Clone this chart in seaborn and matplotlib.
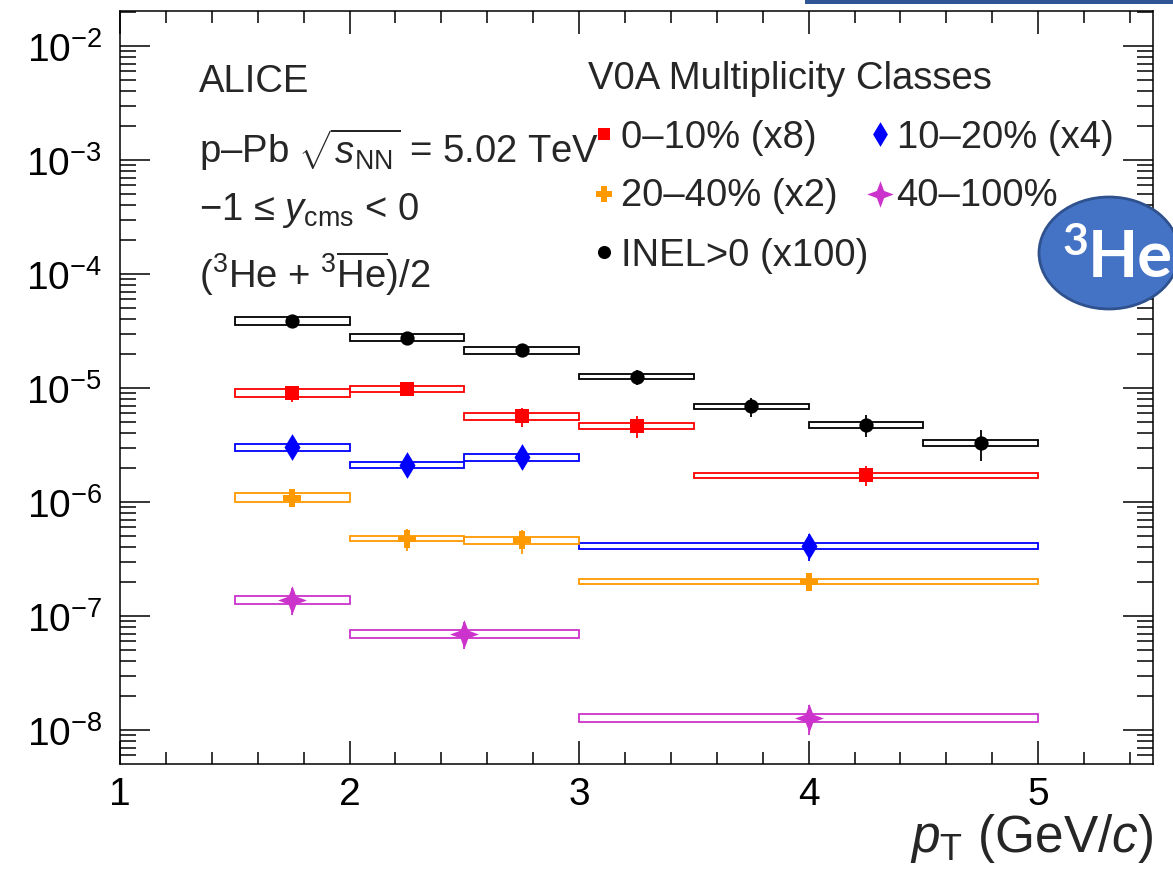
import numpy as np
import matplotlib
matplotlib.use("Agg")
import matplotlib.pyplot as plt
from matplotlib.patches import Rectangle, Ellipse
from matplotlib.ticker import LogLocator, MultipleLocator, NullFormatter
import seaborn as sns

# 3He spectra in p-Pb at 5.02 TeV, (3He + anti-3He)/2, pT bins in GeV/c
inel_lo = [1.5, 2.0, 2.5, 3.0, 3.5, 4.0, 4.5]
inel_hi = [2.0, 2.5, 3.0, 3.5, 4.0, 4.5, 5.0]
inel_yield = [3.87e-7, 2.77e-7, 2.14e-7, 1.26e-7, 6.91e-8, 4.77e-8, 3.30e-8]
inel_stat = [0.08, 0.08, 0.09, 0.15, 0.19, 0.22, 0.30]
inel_syst = [0.075, 0.07, 0.065, 0.05, 0.055, 0.06, 0.065]

c0_lo = [1.5, 2.0, 2.5, 3.0, 3.5]
c0_hi = [2.0, 2.5, 3.0, 3.5, 5.0]
c0_yield = [1.13e-6, 1.234e-6, 7.05e-7, 5.80e-7, 2.14e-7]
c0_stat = [0.16, 0.14, 0.19, 0.22, 0.20]
c0_syst = [0.08, 0.065, 0.065, 0.065, 0.06]

c1_lo = [1.5, 2.0, 2.5, 3.0]
c1_hi = [2.0, 2.5, 3.0, 5.0]
c1_yield = [7.58e-7, 5.30e-7, 6.18e-7, 1.03e-7]
c1_stat = [0.19, 0.22, 0.21, 0.26]
c1_syst = [0.07, 0.065, 0.065, 0.065]

c2_lo = [1.5, 2.0, 2.5, 3.0]
c2_hi = [2.0, 2.5, 3.0, 5.0]
c2_yield = [5.45e-7, 2.39e-7, 2.31e-7, 1.00e-7]
c2_stat = [0.17, 0.22, 0.24, 0.17]
c2_syst = [0.09, 0.055, 0.07, 0.05]

c3_lo = [1.5, 2.0, 3.0]
c3_hi = [2.0, 3.0, 5.0]
c3_yield = [1.39e-7, 7.0e-8, 1.28e-8]
c3_stat = [0.26, 0.26, 0.30]
c3_syst = [0.08, 0.08, 0.075]

class_labels = ["0–10% (x8)", "10–20% (x4)", "20–40% (x2)", "40–100%", "INEL>0 (x100)"]
scale_factors = [8, 4, 2, 1, 100]

# four-pointed star marker
star4 = [(0, 1), (0.27, 0.27), (1, 0), (0.27, -0.27), (0, -1), (-0.27, -0.27), (-1, 0), (-0.27, 0.27)]

colors = ["#ff0000", "#0000ff", "#ff9900", "#cc33cc", "#000000"]
markers = ["s", "d", "P", star4, "o"]
msizes = [95, 185, 150, 430, 105]

series = [
    (c0_lo, c0_hi, c0_yield, c0_stat, c0_syst),
    (c1_lo, c1_hi, c1_yield, c1_stat, c1_syst),
    (c2_lo, c2_hi, c2_yield, c2_stat, c2_syst),
    (c3_lo, c3_hi, c3_yield, c3_stat, c3_syst),
    (inel_lo, inel_hi, inel_yield, inel_stat, inel_syst),
]

sns.set_theme(style="ticks")
plt.rcParams["font.family"] = ["Liberation Sans", "DejaVu Sans"]
plt.rcParams["mathtext.fontset"] = "custom"
plt.rcParams["mathtext.rm"] = "Liberation Sans"
plt.rcParams["mathtext.it"] = "Liberation Sans:italic"
plt.rcParams["mathtext.bf"] = "Liberation Sans:bold"
plt.rcParams["axes.unicode_minus"] = True

W, H = 1173, 887
fig = plt.figure(figsize=(W / 100, H / 100), dpi=100)
fig.patch.set_facecolor("white")
ax = fig.add_axes([120 / W, 122 / H, 1033 / W, 753 / H])
ax.set_facecolor("white")

for (lo, hi, yld, stat, syst), sf, col, mk, ms in zip(series, scale_factors, colors, markers, msizes):
    lo = np.asarray(lo)
    hi = np.asarray(hi)
    y = np.asarray(yld) * sf
    xc = 0.5 * (lo + hi)
    # systematic uncertainty boxes spanning the pT bin
    for l, h, v, s in zip(lo, hi, y, syst):
        ax.add_patch(Rectangle((l, v * (1 - s)), h - l, 2 * v * s, fill=False,
                               edgecolor=col, linewidth=1.3, zorder=2))
    # statistical uncertainties
    ax.errorbar(xc, y, yerr=np.asarray(stat) * y, fmt="none", ecolor=col,
                elinewidth=1.3, capsize=0, zorder=3)
    sns.scatterplot(x=xc, y=y, marker=mk, s=ms, color=col, edgecolor=col,
                    linewidth=0, ax=ax, zorder=4, legend=False)

ax.set_yscale("log")
ax.set_xlim(1.0, 5.5)
ax.set_ylim(5.03e-9, 2.03e-2)

ax.xaxis.set_major_locator(MultipleLocator(1))
ax.xaxis.set_minor_locator(MultipleLocator(0.2))
ax.yaxis.set_major_locator(LogLocator(base=10, numticks=20))
ax.yaxis.set_minor_locator(LogLocator(base=10, subs=np.arange(2, 10), numticks=20))
ax.yaxis.set_minor_formatter(NullFormatter())

ax.tick_params(axis="both", which="both", direction="in", top=True, right=True,
               colors="black", width=1.1)
ax.tick_params(axis="x", which="major", length=16.5, labelsize=28, pad=9)
ax.tick_params(axis="x", which="minor", length=8.6)
ax.tick_params(axis="y", which="major", length=21.5, labelsize=28, pad=13)
ax.tick_params(axis="y", which="minor", length=11.3)
for sp in ax.spines.values():
    sp.set_linewidth(1.1)
    sp.set_color("black")
    sp.set_visible(True)

ax.set_xlabel(r"$p_{\mathrm{T}}$ (GeV/$c$)", fontsize=37, ha="right", va="top")
ax.xaxis.set_label_coords(1.0, -0.062)
ax.grid(False)

# overlay in pixel coordinates for annotations, legend keys and the badge
ov = fig.add_axes([0, 0, 1, 1], zorder=10)
ov.set_xlim(0, W)
ov.set_ylim(H, 0)
ov.axis("off")
ov.patch.set_alpha(0)

fs = 27.5
ov.text(199, 92, "ALICE", fontsize=fs, va="baseline", ha="left")
ov.text(199, 163, r"p–Pb $\sqrt{s_{\mathrm{NN}}}$ = 5.02 TeV", fontsize=fs, va="baseline", ha="left")
ov.text(199, 220, r"−1 ≤ $y_{\mathrm{cms}}$ < 0", fontsize=fs, va="baseline", ha="left")
ov.text(199, 288, r"(${}^{3}$He + ${}^{3}\overline{\mathrm{He}}$)/2", fontsize=fs, va="baseline", ha="left")

# legend
ov.text(588, 89, "V0A Multiplicity Classes", fontsize=fs, va="baseline", ha="left")
key_pos = [(604, 135, 621, 148), (880, 135, 897, 148), (604, 195, 621, 206),
           (880, 195, 896, 206), (604, 253, 621, 266)]
for (mx, my, tx, ty), lab, col, mk, ms in zip(key_pos, class_labels, colors, markers, msizes):
    ov.scatter([mx], [my], marker=mk, s=ms * 0.85, color=col, linewidths=0)
    ov.text(tx, ty, lab, fontsize=fs, va="baseline", ha="left")

# badge and banner
ov.add_patch(Rectangle((805, 0), W - 805, 5, facecolor="#2f5597", edgecolor="none"))
ov.add_patch(Ellipse((1109, 254), 140, 112, facecolor="#4472c4", edgecolor="#2f528f", linewidth=2))
ov.text(1062, 255, "3", fontsize=32, fontweight="bold", color="white",
        family=["Lato", "DejaVu Sans"], va="baseline", ha="left")
ov.text(1088, 277, "He", fontsize=47, fontweight="bold", color="white",
        family=["Lato", "DejaVu Sans"], va="baseline", ha="left")

fig.savefig("out.png", dpi=100, facecolor="white")
